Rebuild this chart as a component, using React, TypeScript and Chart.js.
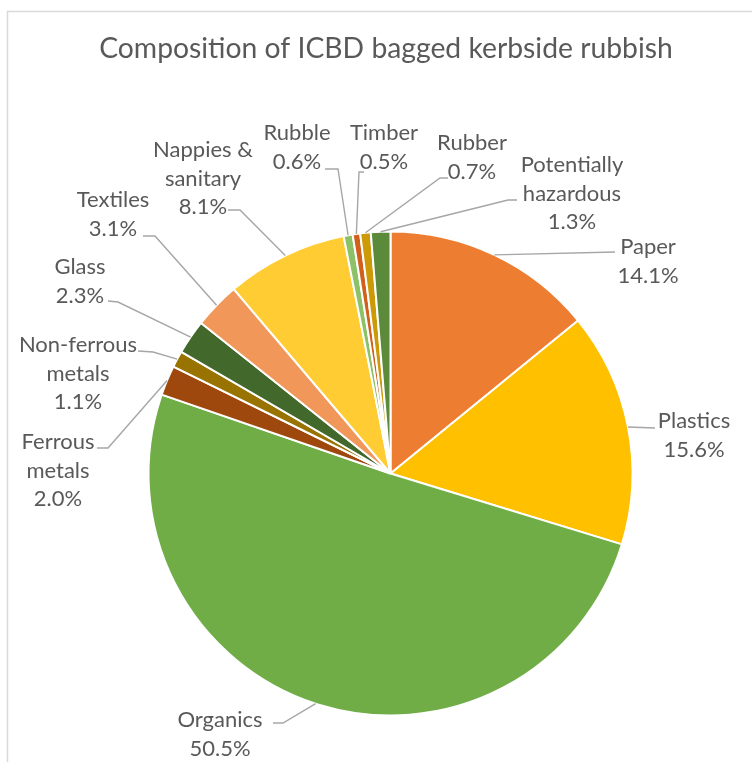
import React, { useEffect, useRef } from "react";
import { Chart, registerables } from "chart.js";

Chart.register(...registerables);

const TITLE = "Composition of ICBD bagged kerbside rubbish";

const categories: string[][] = [
  ["Paper"],
  ["Plastics"],
  ["Organics"],
  ["Ferrous", "metals"],
  ["Non-ferrous", "metals"],
  ["Glass"],
  ["Textiles"],
  ["Nappies &", "sanitary"],
  ["Rubble"],
  ["Timber"],
  ["Rubber"],
  ["Potentially", "hazardous"],
];

const shares = [14.1, 15.6, 50.5, 2.0, 1.1, 2.3, 3.1, 8.1, 0.6, 0.5, 0.7, 1.3];

const sliceColors = [
  "#ED7D31",
  "#FFC000",
  "#70AD47",
  "#9E480E",
  "#997300",
  "#43682B",
  "#F1975A",
  "#FFCD33",
  "#8CC168",
  "#D0601A",
  "#CC9A06",
  "#5A8A3A",
];

// label layout: centre x, first-line centre y, leader start, leader elbow
const labelLayout: { x: number; y: number; from: number[]; elbow: number[] }[] = [
  { x: 648, y: 247, from: [615, 252], elbow: [615, 252] },
  { x: 694, y: 421, from: [655, 428], elbow: [655, 428] },
  { x: 220, y: 720, from: [273, 723], elbow: [283, 723] },
  { x: 58, y: 442, from: [97, 448], elbow: [108, 448] },
  { x: 78, y: 345, from: [138, 351], elbow: [153, 352] },
  { x: 80, y: 267, from: [108, 301], elbow: [118, 302] },
  { x: 113, y: 200, from: [143, 236], elbow: [155, 236] },
  { x: 203, y: 150, from: [228, 210], elbow: [240, 210] },
  { x: 297, y: 133, from: [325, 169], elbow: [338, 169] },
  { x: 384, y: 133, from: [364, 172], elbow: [359, 172] },
  { x: 472, y: 143, from: [448, 178], elbow: [440, 178] },
  { x: 572, y: 165, from: [517, 200], elbow: [508, 200] },
];

const LINE_H = 28.5;
const FONT = "Lato, 'Open Sans', sans-serif";
const TEXT_COLOR = "#595959";
const LEADER_COLOR = "#A6A6A6";

const annotate = {
  id: "annotate",
  beforeDraw(chart: any) {
    const ctx = chart.ctx;
    ctx.save();
    ctx.fillStyle = "#ffffff";
    ctx.fillRect(0, 0, chart.width, chart.height);
    ctx.strokeStyle = "#D9D9D9";
    ctx.lineWidth = 1.5;
    ctx.beginPath();
    ctx.moveTo(7.5, chart.height);
    ctx.lineTo(7.5, 11.5);
    ctx.lineTo(chart.width, 11.5);
    ctx.stroke();
    ctx.fillStyle = TEXT_COLOR;
    ctx.font = `28.3px ${FONT}`;
    ctx.textAlign = "center";
    ctx.textBaseline = "middle";
    ctx.fillText(TITLE, 386, 49);
    ctx.restore();
  },
  afterDatasetsDraw(chart: any) {
    const ctx = chart.ctx;
    const meta = chart.getDatasetMeta(0);
    ctx.save();
    meta.data.forEach((arc: any, i: number) => {
      const lay = labelLayout[i];
      const mid = (arc.startAngle + arc.endAngle) / 2;
      const ex = arc.x + Math.cos(mid) * arc.outerRadius;
      const ey = arc.y + Math.sin(mid) * arc.outerRadius;
      ctx.strokeStyle = LEADER_COLOR;
      ctx.lineWidth = 1.4;
      ctx.beginPath();
      ctx.moveTo(lay.from[0], lay.from[1]);
      ctx.lineTo(lay.elbow[0], lay.elbow[1]);
      ctx.lineTo(ex, ey);
      ctx.stroke();

      const lines = [...categories[i], shares[i].toFixed(1) + "%"];
      ctx.fillStyle = TEXT_COLOR;
      ctx.font = `22px ${FONT}`;
      ctx.textAlign = "center";
      ctx.textBaseline = "middle";
      lines.forEach((t, k) => ctx.fillText(t, lay.x, lay.y + k * LINE_H));
    });
    ctx.restore();
  },
};

export default function App() {
  const ref = useRef<HTMLCanvasElement | null>(null);
  useEffect(() => {
    let chart: Chart | null = null;
    let cancelled = false;
    const make = () => {
      if (cancelled || !ref.current) return;
      chart = new Chart(ref.current, {
        type: "pie",
        data: {
          labels: categories.map((c) => c.join(" ")),
          datasets: [
            {
              data: shares,
              backgroundColor: sliceColors,
              borderColor: "#ffffff",
              borderWidth: 2,
            },
          ],
        },
        options: {
          responsive: false,
          animation: false,
          radius: 242,
          layout: { padding: { left: 148, right: 119, top: 231, bottom: 46 } },
          plugins: {
            legend: { display: false },
            tooltip: { enabled: false },
            title: { display: false },
          },
        } as any,
        plugins: [annotate],
      });
    };
    const fontsApi: any = (document as any).fonts;
    if (fontsApi && fontsApi.load) {
      Promise.all([fontsApi.load(`22px Lato`), fontsApi.load(`28px Lato`)])
        .catch(() => null)
        .then(make);
    } else make();
    return () => {
      cancelled = true;
      if (chart) chart.destroy();
    };
  }, []);
  return (
    <canvas
      ref={ref}
      width={752}
      height={762}
      style={{ position: "fixed", left: 0, top: 0, width: 752, height: 762 }}
    />
  );
}
